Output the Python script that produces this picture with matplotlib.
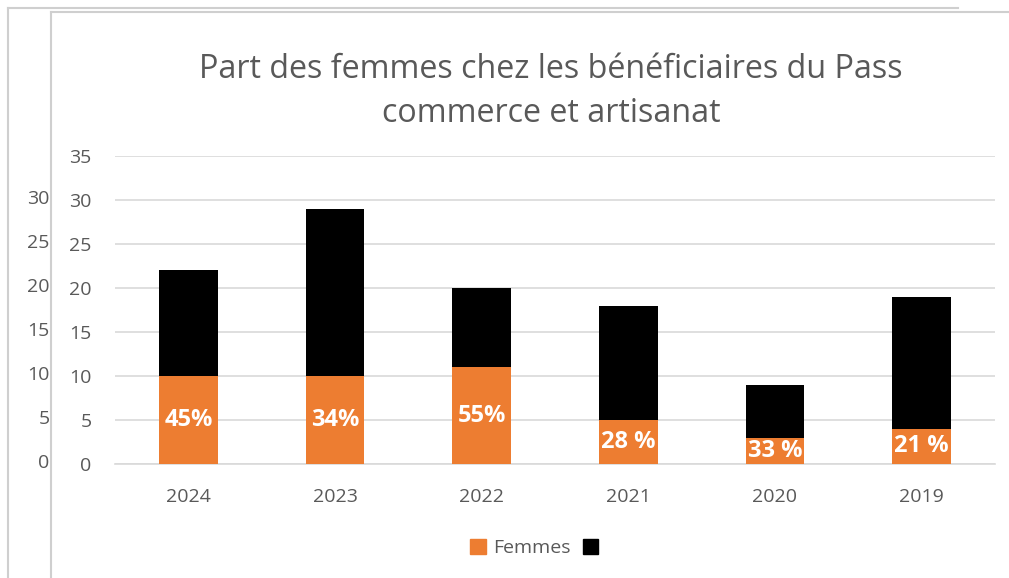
import matplotlib.pyplot as plt
from matplotlib.patches import Patch
from matplotlib.lines import Line2D

plt.rcParams['font.family'] = ['Open Sans', 'DejaVu Sans']

# data
years = ['2024', '2023', '2022', '2021', '2020', '2019']
femmes = [10, 10, 11, 5, 3, 4]
totals = [22, 29, 20, 18, 9, 19]
pct_labels = ['45%', '34%', '55%', '28 %', '33 %', '21 %']
others = [t - f for t, f in zip(totals, femmes)]

orange = '#ED7D31'
grey_txt = '#595959'
grid_col = '#D9D9D9'
frame_col = '#CFCFCF'

fig = plt.figure(figsize=(10.09, 5.78), dpi=100)
W, H = 1009, 578

# frame lines around the chart (as in the screenshot)
fig.add_artist(Line2D([7.5 / W, 7.5 / W], [0, 1 - 7.5 / H], color=frame_col, lw=1.5))
fig.add_artist(Line2D([7.5 / W, 958 / W], [1 - 7.5 / H, 1 - 7.5 / H], color=frame_col, lw=1.5))
fig.add_artist(Line2D([51 / W, 51 / W], [0, 1 - 11.5 / H], color=frame_col, lw=1.5))
fig.add_artist(Line2D([51 / W, 1], [1 - 11.5 / H, 1 - 11.5 / H], color=frame_col, lw=1.5))

pos = [115 / W, 114 / H, 880 / W, 308 / H]
ax = fig.add_axes(pos)

x = list(range(len(years)))
ax.bar(x, femmes, width=0.4, color=orange, zorder=3)
ax.bar(x, others, bottom=femmes, width=0.4, color='black', zorder=3)

for i in x:
    ax.text(i, femmes[i] / 2, pct_labels[i], ha='center', va='center',
            color='white', fontsize=17, fontweight='bold', zorder=4)

ax.set_xlim(-0.5, 5.5)
ax.set_ylim(0, 35)
ax.set_yticks(range(0, 36, 5))
ax.set_xticks(x)
ax.set_xticklabels(years)
ax.grid(axis='y', color=grid_col, lw=1.2, zorder=0)
for s in ['top', 'right', 'left']:
    ax.spines[s].set_visible(False)
ax.spines['bottom'].set_color(grid_col)
ax.spines['bottom'].set_linewidth(1.2)
ax.tick_params(axis='both', length=0, colors=grey_txt, labelsize=14)
ax.tick_params(axis='y', pad=17)
ax.tick_params(axis='x', pad=17)

# stray second axis labels on the left
ax2 = fig.add_axes(pos, facecolor='none')
ax2.set_ylim(-0.34, 34.66)
ax2.set_yticks(range(0, 31, 5))
ax2.set_xticks([])
for s in ax2.spines.values():
    s.set_visible(False)
ax2.tick_params(axis='y', length=0, colors=grey_txt, labelsize=14, pad=47)

fig.text((200 + 902) / 2 / W, 1 - 70 / H, 'Part des femmes chez les bénéficiaires du Pass',
         ha='center', va='center', fontsize=23.2, color=grey_txt)
fig.text((200 + 902) / 2 / W, 1 - 113 / H, 'commerce et artisanat',
         ha='center', va='center', fontsize=23.2, color=grey_txt)

handles = [Patch(color=orange), Patch(color='black')]
fig.legend(handles, ['Femmes', ''], loc='center', bbox_to_anchor=(538 / W, 1 - 548 / H),
           ncol=2, frameon=False, fontsize=14, labelcolor=grey_txt,
           handlelength=0.8, handleheight=0.8, columnspacing=0.6, handletextpad=0.4)

fig.savefig('out.png', dpi=100)
